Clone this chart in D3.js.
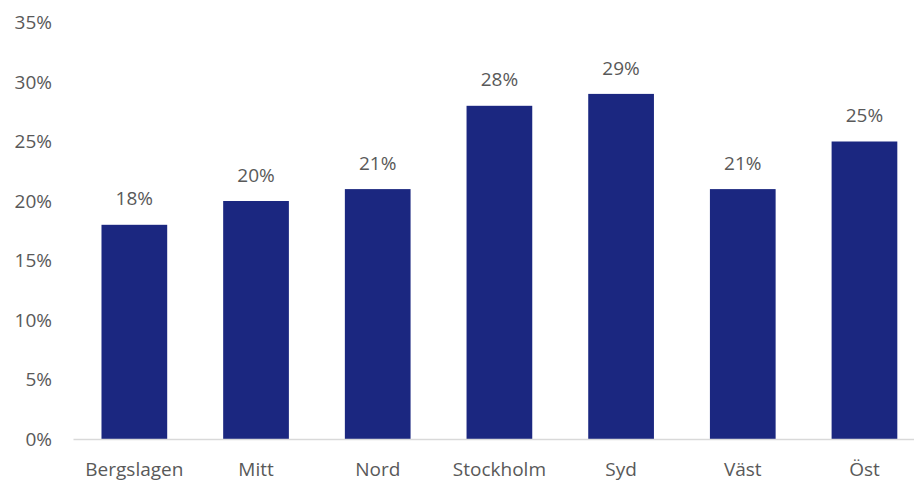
<!DOCTYPE html>
<html><head><meta charset="utf-8">
<script src="https://cdn.jsdelivr.net/npm/d3@7"></script>
<style>body{margin:0;background:#fff}svg{display:block}text{font-family:"Open Sans","Noto Sans",sans-serif;fill:#595959}</style>
</head><body><svg id="c" width="914" height="486"></svg>
<script>
const categories = ["Bergslagen","Mitt","Nord","Stockholm","Syd","Väst","Öst"];
const values = [0.18,0.20,0.21,0.28,0.29,0.21,0.25];
const yTicks = [0,0.05,0.10,0.15,0.20,0.25,0.30,0.35];

const svg = d3.select("#c");
const x = d3.scaleBand().domain(categories).range([73.5,925.3]).paddingInner(0.46).paddingOuter(0.23);
const y = d3.scaleLinear().domain([0,0.35]).range([439,22.5]);
const fmt = d3.format(".0%");
const fs = "19px";

svg.append("g").selectAll("text").data(yTicks).join("text")
  .attr("x",52).attr("y",d=>y(d)).attr("dy","0.35em").attr("text-anchor","end")
  .style("font-size",fs).text(fmt);

svg.append("g").selectAll("rect").data(values).join("rect")
  .attr("x",(d,i)=>x(categories[i])).attr("width",x.bandwidth())
  .attr("y",d=>y(d)).attr("height",d=>y(0)-y(d)).attr("fill","#1B2780");

svg.append("line").attr("x1",73.5).attr("x2",914).attr("y1",y(0)+0.5).attr("y2",y(0)+0.5)
  .attr("stroke","#D9D9D9").attr("stroke-width",1.5);

svg.append("g").selectAll("text").data(values).join("text")
  .attr("x",(d,i)=>x(categories[i])+x.bandwidth()/2).attr("y",d=>y(d)-26).attr("dy","0.35em")
  .attr("text-anchor","middle").style("font-size",fs).text(fmt);

svg.append("g").selectAll("text").data(categories).join("text")
  .attr("x",d=>x(d)+x.bandwidth()/2).attr("y",469.5).attr("dy","0.35em")
  .attr("text-anchor","middle").style("font-size",fs).text(d=>d);
</script></body></html>
